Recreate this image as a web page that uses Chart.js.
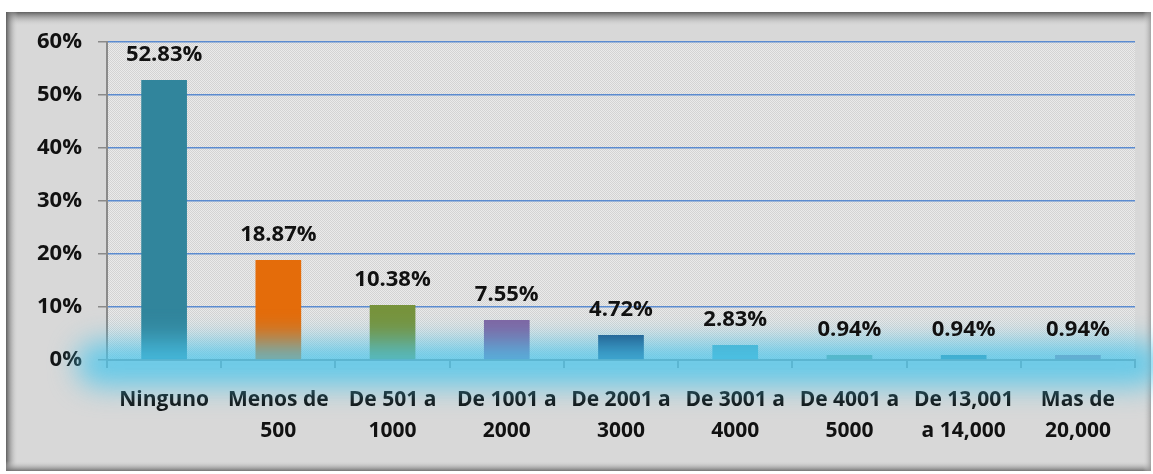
<!DOCTYPE html>
<html>
<head>
<meta charset="utf-8">
<script src="https://cdn.jsdelivr.net/npm/chart.js@4.4.1/dist/chart.umd.min.js"></script>
<style>
html,body{margin:0;padding:0;background:#ffffff;}
#wrap{width:1153px;height:474px;position:relative;}
</style>
</head>
<body>
<div id="wrap"><canvas id="c" width="1153" height="474"></canvas></div>
<script>
const categories = [
  ["Ninguno"], ["Menos de", "500"], ["De 501 a", "1000"], ["De 1001 a", "2000"],
  ["De 2001 a", "3000"], ["De 3001 a", "4000"], ["De 4001 a", "5000"],
  ["De 13,001", "a 14,000"], ["Mas de", "20,000"]
];
const values = [52.83, 18.87, 10.38, 7.55, 4.72, 2.83, 0.94, 0.94, 0.94];
const valueLabels = ["52.83%", "18.87%", "10.38%", "7.55%", "4.72%", "2.83%", "0.94%", "0.94%", "0.94%"];
const yTicks = [0, 10, 20, 30, 40, 50, 60];
const barColors = ["#31859C", "#E46C0A", "#77933C", "#8064A2", "#1A4A7E", "#4BACC6", "#6E9A84", "#2D7E96", "#9A7A9A"];

const FONT = "'Open Sans', 'Liberation Sans', sans-serif";

function makePattern(ctx) {
  const p = document.createElement('canvas');
  p.width = 2; p.height = 2;
  const pc = p.getContext('2d');
  pc.fillStyle = '#EAEAEA'; pc.fillRect(0, 0, 2, 2);
  pc.fillStyle = '#D3D3D3'; pc.fillRect(0, 0, 1, 1); pc.fillRect(1, 1, 1, 1);
  return ctx.createPattern(p, 'repeat');
}

const framePlugin = {
  id: 'frame',
  beforeDraw(chart) {
    const ctx = chart.ctx;
    const ca = chart.chartArea;
    ctx.save();
    const x0 = 6, y0 = 12, x1 = 1151, y1 = 471;
    ctx.fillStyle = '#D8D8D8';
    ctx.fillRect(x0, y0, x1 - x0, y1 - y0);
    let g = ctx.createLinearGradient(0, y0, 0, y0 + 14);
    g.addColorStop(0, 'rgba(90,90,90,0.95)'); g.addColorStop(1, 'rgba(216,216,216,0)');
    ctx.fillStyle = g; ctx.fillRect(x0, y0, x1 - x0, 14);
    g = ctx.createLinearGradient(x0, 0, x0 + 12, 0);
    g.addColorStop(0, 'rgba(90,90,90,0.95)'); g.addColorStop(1, 'rgba(216,216,216,0)');
    ctx.fillStyle = g; ctx.fillRect(x0, y0, 12, y1 - y0);
    g = ctx.createLinearGradient(0, y1, 0, y1 - 10);
    g.addColorStop(0, 'rgba(110,110,110,0.95)'); g.addColorStop(1, 'rgba(216,216,216,0)');
    ctx.fillStyle = g; ctx.fillRect(x0, y1 - 10, x1 - x0, 10);
    g = ctx.createLinearGradient(x1, 0, x1 - 8, 0);
    g.addColorStop(0, 'rgba(150,150,150,0.8)'); g.addColorStop(1, 'rgba(216,216,216,0)');
    ctx.fillStyle = g; ctx.fillRect(x1 - 8, y0, 8, y1 - y0);
    ctx.fillStyle = makePattern(ctx);
    ctx.fillRect(ca.left, ca.top, ca.right - ca.left, ca.bottom - ca.top);
    ctx.restore();
  },
  afterDatasetsDraw(chart) {
    const ctx = chart.ctx;
    const ca = chart.chartArea;
    ctx.save();
    ctx.filter = 'blur(14px)';
    ctx.strokeStyle = 'rgba(75,198,235,0.82)';
    ctx.lineWidth = 44;
    ctx.lineCap = 'round';
    ctx.beginPath();
    ctx.moveTo(ca.left - 8, ca.bottom + 4);
    ctx.lineTo(ca.right + 6, ca.bottom + 4);
    ctx.stroke();
    ctx.restore();
  },
  afterDraw(chart) {
    const ctx = chart.ctx;
    const meta = chart.getDatasetMeta(0);
    ctx.save();
    ctx.fillStyle = '#111111';
    ctx.font = "bold 22px " + FONT;
    ctx.textAlign = 'center';
    ctx.textBaseline = 'middle';
    meta.data.forEach((bar, i) => {
      ctx.fillText(valueLabels[i], bar.x, bar.y - 25);
    });
    ctx.restore();
  }
};

new Chart(document.getElementById('c'), {
  type: 'bar',
  data: {
    labels: categories,
    datasets: [{
      data: values,
      backgroundColor: barColors,
      borderWidth: 0,
      barPercentage: 0.4,
      categoryPercentage: 1.0
    }]
  },
  options: {
    responsive: false,
    animation: false,
    devicePixelRatio: 1,
    layout: { padding: { top: 42, right: 18, left: 0, bottom: 0 } },
    plugins: { legend: { display: false }, tooltip: { enabled: false } },
    scales: {
      x: {
        z: 1,
        afterFit(scale) { scale.height = 114; },
        grid: { drawOnChartArea: false, drawTicks: true, tickLength: 8, color: '#8A8A8A', lineWidth: 2 },
        border: { color: '#8A8A8A', width: 2 },
        ticks: {
          color: '#111111', font: { family: FONT, size: 21, weight: 'bold', lineHeight: 1.45 },
          padding: 17, maxRotation: 0, minRotation: 0, autoSkip: false
        }
      },
      y: {
        min: 0, max: 60,
        afterFit(scale) { scale.width = 107; },
        afterBuildTicks(scale) { scale.ticks = yTicks.map(v => ({ value: v })); },
        grid: {
          color: (c) => (c.tick && c.tick.value === 0) ? 'rgba(0,0,0,0)' : '#5B8BD0',
          lineWidth: 1.5,
          tickColor: '#8A8A8A', tickLength: 9
        },
        border: { color: '#8A8A8A', width: 2 },
        ticks: {
          color: '#111111', font: { family: FONT, size: 22, weight: 'bold' },
          padding: 16,
          callback: (v) => v + '%'
        }
      }
    }
  },
  plugins: [framePlugin]
});
</script>
</body>
</html>
